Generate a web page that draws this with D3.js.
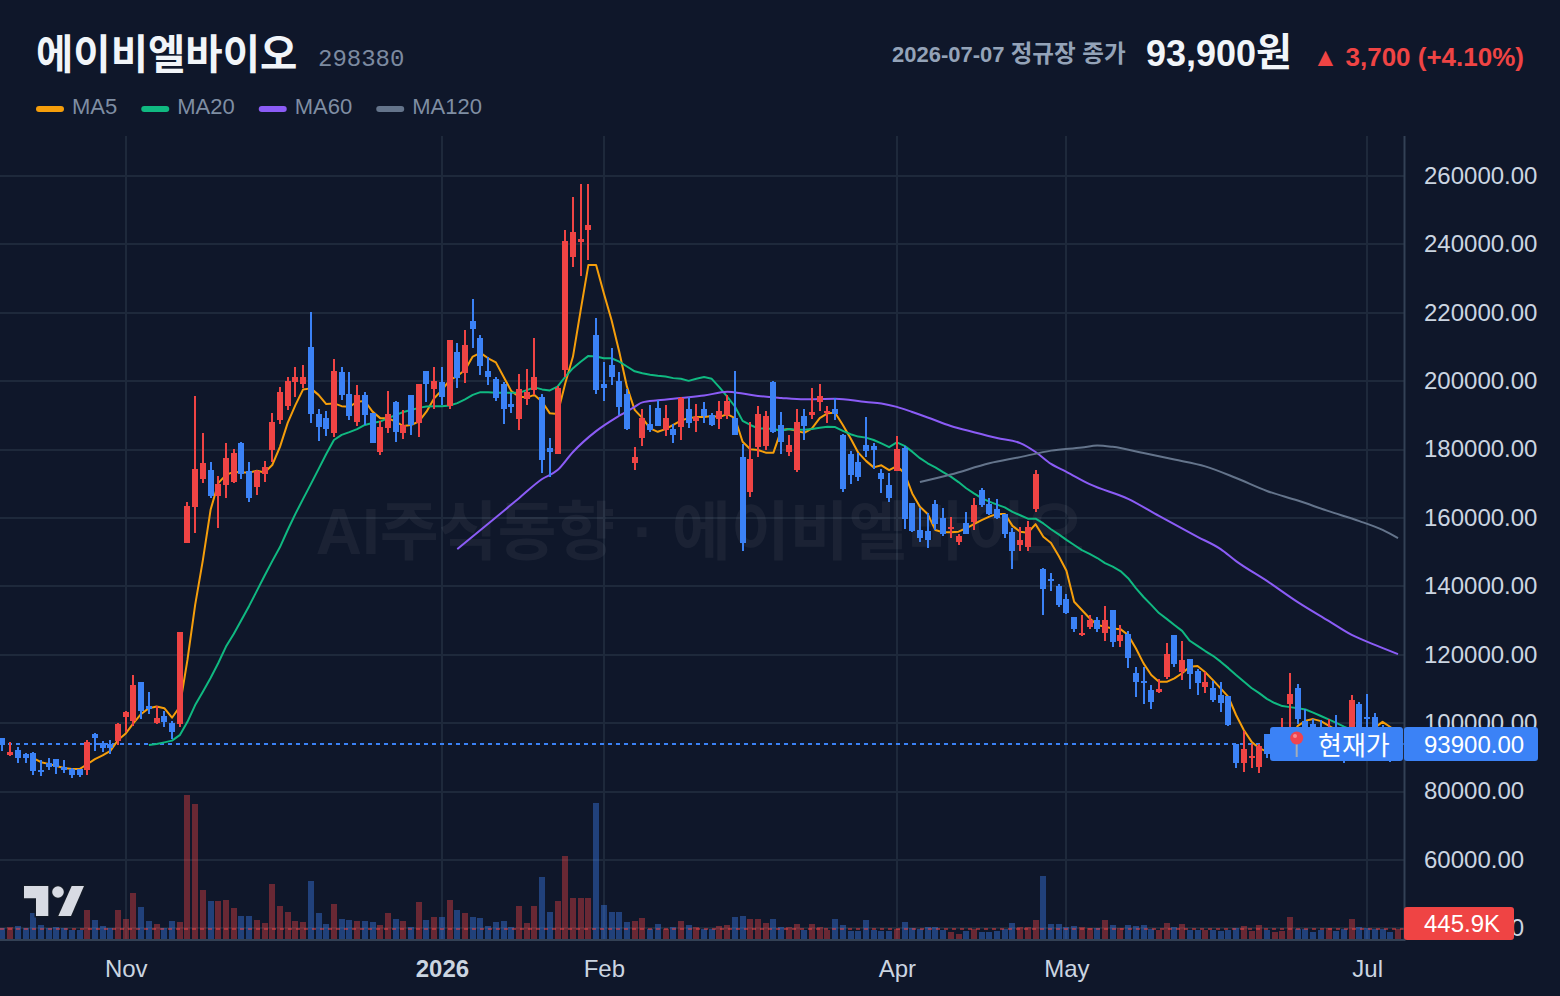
<!DOCTYPE html>
<html lang="ko">
<head>
<meta charset="utf-8">
<title>에이비엘바이오 298380</title>
<script src="https://cdn.jsdelivr.net/npm/d3@7/dist/d3.min.js"></script>
<style>
  html, body { margin: 0; padding: 0; background: #0f172a; }
  svg { display: block; font-family: "Liberation Sans", "Noto Sans CJK KR", sans-serif; }
</style>
</head>
<body>
<svg id="chart" width="1560" height="996"></svg>
<script>
// Daily prices in thousand won, one entry per trading day.
const open = [
  95.6, 90.7, 92.2, 91.0, 91.3, 86.3, 88.3, 89.5, 87.1, 86.5,
  86.5, 86.3, 96.8, 94.3, 94.0, 94.8, 101.7, 100.6, 112.0, 105.0,
  99.9, 102.1, 100.1, 99.8, 152.8, 163.3, 171.5, 174.0, 166.4, 169.6,
  170.5, 181.9, 173.7, 169.1, 172.9, 179.9, 188.7, 192.7, 199.8, 199.2,
  210.0, 190.4, 189.2, 184.9, 202.7, 196.3, 188.1, 196.0, 190.7, 179.3,
  186.3, 193.9, 184.9, 196.0, 187.8, 203.0, 197.7, 199.8, 192.7, 208.5,
  202.4, 217.6, 212.6, 203.0, 200.6, 199.2, 193.3, 189.0, 194.8, 197.4,
  195.4, 180.5, 178.7, 203.3, 236.3, 240.7, 244.2, 213.5, 199.2, 204.7,
  200.1, 196.3, 176.1, 183.4, 187.5, 192.2, 185.7, 186.0, 186.6, 191.9,
  188.4, 191.9, 190.1, 189.0, 190.1, 189.2, 177.8, 167.6, 180.8, 181.0,
  199.8, 187.2, 179.3, 174.0, 189.9, 190.1, 193.9, 190.7, 191.9, 184.3,
  178.7, 176.4, 181.4, 181.0, 173.2, 169.6, 173.7, 180.5, 164.4, 156.5,
  156.2, 164.1, 160.0, 157.1, 153.1, 158.6, 158.8, 168.2, 164.1, 162.6,
  161.2, 155.9, 152.1, 151.5, 162.6, 145.1, 142.2, 140.1, 136.3, 131.0,
  125.8, 128.1, 130.2, 126.4, 133.1, 124.1, 126.1, 114.7, 112.3, 109.7,
  109.1, 113.5, 125.8, 115.0, 118.8, 115.3, 110.6, 110.3, 108.2, 108.0,
  93.9, 88.4, 89.8, 87.2, 96.8, 91.6, 92.8, 105.6, 110.3, 100.6,
  99.8, 98.6, 93.6, 98.6, 98.0, 96.5, 105.6, 101.8, 101.8, 98.6,
  97.1, 90.2
];
const close = [
  93.6, 91.6, 89.8, 89.8, 86.1, 85.7, 87.1, 87.1, 86.1, 84.8,
  84.6, 94.6, 95.5, 92.8, 92.8, 99.8, 103.3, 111.1, 103.6, 104.1,
  101.5, 100.3, 97.4, 126.7, 163.5, 174.4, 176.1, 166.4, 169.9, 177.5,
  179.0, 172.9, 165.8, 173.7, 174.9, 188.1, 196.8, 200.1, 201.2, 201.2,
  190.4, 186.6, 186.0, 203.0, 196.0, 189.9, 196.0, 190.1, 181.9, 186.6,
  190.4, 185.1, 187.2, 187.2, 199.2, 199.2, 200.1, 195.4, 212.0, 200.9,
  210.6, 215.3, 204.4, 201.2, 195.1, 191.9, 192.4, 197.7, 196.8, 201.2,
  177.0, 179.3, 198.0, 241.0, 243.6, 241.6, 245.7, 197.4, 198.0, 201.2,
  192.5, 186.0, 177.8, 189.2, 185.7, 186.9, 189.2, 184.3, 195.1, 187.8,
  189.6, 189.9, 187.2, 191.3, 194.2, 184.3, 152.7, 177.2, 190.4, 189.9,
  185.1, 182.2, 181.4, 188.1, 186.9, 191.0, 195.7, 191.3, 190.4, 168.5,
  172.6, 172.0, 179.6, 179.9, 171.4, 165.8, 180.2, 159.7, 156.2, 154.1,
  153.6, 158.3, 155.3, 157.5, 154.8, 155.4, 163.8, 163.8, 161.2, 160.0,
  155.4, 150.3, 153.6, 157.4, 172.9, 139.3, 141.9, 134.6, 132.2, 127.5,
  126.4, 130.2, 127.5, 130.2, 123.8, 125.8, 119.1, 112.1, 111.8, 106.2,
  110.0, 120.2, 117.3, 118.5, 114.4, 111.8, 112.0, 106.8, 105.9, 99.5,
  88.4, 92.5, 90.4, 93.3, 91.0, 97.1, 96.5, 108.5, 101.2, 96.5,
  95.7, 94.5, 97.1, 93.6, 90.7, 106.8, 96.5, 101.5, 95.7, 93.6,
  90.2, 93.9
];
const high = [
  95.6, 94.5, 93.1, 91.3, 91.6, 89.2, 89.8, 89.5, 89.2, 86.9,
  86.7, 95.1, 97.1, 94.7, 95.1, 100.0, 103.6, 114.1, 112.0, 109.1,
  105.0, 103.6, 100.6, 126.7, 164.7, 195.7, 184.8, 176.4, 172.3, 181.8,
  180.2, 182.2, 176.4, 174.0, 176.7, 190.7, 198.3, 201.2, 204.1, 204.7,
  220.2, 191.9, 191.3, 206.5, 204.1, 202.7, 198.9, 196.8, 190.7, 188.4,
  197.1, 194.2, 191.6, 196.0, 199.2, 203.0, 204.1, 204.1, 212.0, 211.2,
  215.0, 224.0, 213.5, 207.1, 201.2, 199.8, 196.5, 202.1, 203.6, 212.6,
  196.3, 183.4, 198.6, 244.2, 253.9, 257.7, 257.7, 218.5, 205.6, 209.7,
  202.7, 197.7, 180.8, 191.9, 193.0, 194.5, 193.0, 187.5, 195.4, 195.4,
  193.3, 193.9, 190.7, 194.2, 196.0, 203.0, 181.6, 188.1, 192.8, 191.3,
  200.1, 191.0, 184.3, 191.9, 191.9, 198.0, 199.2, 192.7, 195.1, 184.6,
  179.6, 179.0, 189.6, 181.9, 174.3, 173.2, 183.9, 181.0, 164.4, 162.9,
  161.5, 165.3, 162.9, 160.4, 155.4, 161.7, 165.8, 168.8, 165.8, 165.5,
  161.2, 157.1, 157.4, 159.1, 174.0, 145.4, 143.9, 140.7, 137.8, 131.0,
  131.6, 131.6, 131.0, 134.3, 133.1, 128.7, 127.0, 116.5, 116.5, 111.2,
  112.9, 123.4, 125.8, 124.1, 118.8, 115.9, 115.0, 112.3, 112.0, 108.0,
  93.9, 97.7, 93.9, 93.9, 96.8, 98.9, 101.5, 114.7, 111.5, 104.1,
  101.2, 100.9, 101.2, 102.4, 98.9, 108.2, 106.2, 108.5, 103.0, 99.5,
  98.6, 95.0
];
const low = [
  91.9, 90.5, 88.4, 88.4, 85.0, 84.6, 86.3, 85.2, 85.5, 84.1,
  84.4, 84.9, 91.9, 91.7, 91.0, 93.6, 97.5, 99.2, 101.2, 102.7,
  99.9, 98.9, 95.4, 98.9, 152.8, 155.7, 170.3, 165.8, 157.1, 165.8,
  170.2, 171.4, 164.7, 166.8, 170.5, 176.4, 187.5, 191.6, 195.4, 198.0,
  187.8, 182.5, 183.9, 183.7, 194.5, 188.7, 187.0, 187.2, 181.9, 178.4,
  184.9, 182.2, 183.1, 184.3, 183.7, 193.9, 191.9, 193.1, 191.9, 198.0,
  199.5, 209.7, 201.8, 198.9, 194.2, 187.5, 190.7, 185.7, 193.0, 196.0,
  173.2, 172.0, 178.7, 201.2, 233.4, 230.8, 235.4, 196.3, 194.2, 198.9,
  190.1, 185.7, 174.0, 181.0, 185.1, 186.9, 183.9, 181.9, 182.8, 186.3,
  185.1, 187.8, 186.9, 186.0, 189.0, 184.3, 150.3, 166.1, 177.8, 179.9,
  184.9, 178.7, 178.1, 173.5, 182.8, 189.0, 191.3, 187.8, 188.7, 167.6,
  169.9, 170.8, 177.8, 174.3, 167.3, 164.7, 173.7, 156.8, 155.9, 153.0,
  151.2, 156.5, 154.7, 154.1, 152.2, 155.4, 156.5, 163.2, 160.9, 159.7,
  154.1, 145.0, 150.3, 150.3, 161.7, 131.6, 138.6, 134.0, 131.9, 126.7,
  125.5, 127.5, 126.7, 124.1, 122.3, 122.3, 116.2, 107.7, 105.6, 104.1,
  108.8, 112.9, 116.5, 112.6, 110.0, 108.2, 108.8, 106.2, 103.3, 99.2,
  86.9, 85.7, 86.9, 85.4, 89.8, 90.4, 91.6, 96.5, 99.8, 93.6,
  93.3, 92.2, 92.2, 91.6, 88.4, 93.6, 94.5, 95.1, 93.6, 91.6,
  88.7, 89.5
];
// Daily turnover in thousand shares.
const volume = [
  459, 515, 558, 485, 1103, 601, 459, 515, 472, 399,
  399, 1244, 815, 558, 485, 1244, 858, 1973, 1373, 772,
  644, 472, 772, 729, 6178, 5792, 2102, 1630, 1630, 1673,
  1330, 987, 987, 815, 686, 2360, 1416, 1158, 772, 729,
  2488, 1115, 644, 1502, 858, 815, 772, 772, 729, 601,
  1115, 858, 772, 515, 1587, 815, 944, 944, 1673, 1244,
  1115, 944, 901, 558, 729, 772, 515, 1416, 686, 1416,
  2660, 1158, 1630, 3561, 1759, 1759, 1759, 5834, 1459, 1158,
  1158, 729, 772, 901, 429, 644, 429, 515, 772, 601,
  515, 429, 429, 558, 601, 944, 987, 858, 858, 686,
  858, 515, 515, 644, 386, 644, 515, 386, 858, 601,
  343, 343, 815, 386, 343, 343, 429, 729, 472, 429,
  515, 515, 386, 300, 215, 343, 429, 300, 300, 343,
  429, 686, 515, 515, 815, 2703, 644, 644, 515, 558,
  515, 493, 493, 815, 601, 472, 601, 558, 601, 429,
  386, 686, 515, 644, 386, 386, 386, 386, 343, 386,
  472, 558, 343, 601, 386, 300, 343, 944, 429, 429,
  300, 386, 472, 343, 429, 858, 515, 472, 429, 429,
  300, 445.9
];

// Moving averages in thousand won. Each starts once its window is filled.
const ma5Start = 4;
const ma5 = [
  89.8, 88.6, 88.1, 87.5, 86.9, 86.6, 86.6, 88.0, 89.5, 90.6,
  91.9, 95.1, 97.0, 100.0, 102.7, 104.4, 104.9, 104.4, 101.6, 104.8,
  118.5, 134.6, 147.7, 162.4, 170.2, 172.6, 173.5, 173.3, 173.3, 173.8,
  173.3, 175.5, 180.8, 187.8, 193.0, 197.6, 197.9, 196.0, 193.3, 193.5,
  192.7, 192.5, 194.0, 194.2, 191.1, 189.2, 189.2, 188.2, 186.9, 187.2,
  188.2, 191.1, 195.0, 197.4, 200.3, 201.5,
  203.3, 207.2, 208.3, 206.7, 205.5, 201.3, 197.1, 195.5, 195.2, 196.0,
  194.0, 190.6, 190.4, 199.4, 207.2, 220.8, 234.0, 234.0, 225.7, 217.9,
  208.6, 198.4, 191.6, 189.2, 186.2, 185.2, 186.0, 187.2, 188.5, 189.2,
  189.5, 189.5, 189.8, 189.5, 190.4, 189.2,
  182.3, 180.1, 179.9, 179.1, 179.1, 185.7, 186.0, 185.5, 184.9, 186.2,
  189.2, 190.6, 190.8, 187.2, 183.3, 179.1, 176.7, 174.8, 175.4, 174.0,
  175.2, 173.1, 167.2, 163.3, 161.2, 156.5, 155.8, 155.8, 156.0, 157.0,
  158.2, 159.4, 160.4, 161.2, 161.2, 157.7, 156.0, 155.7, 158.2,
  154.5, 152.7, 148.9, 144.6, 135.5, 133.1, 130.7, 128.7, 128.2, 127.7,
  127.5, 125.8, 121.9, 117.5, 114.1, 112.1, 112.1, 113.1, 114.6, 116.5,
  116.7, 114.9, 112.6, 110.2, 107.7, 102.4, 98.0, 94.6, 92.7, 91.7,
  90.7, 92.8, 95.7, 99.2, 100.7, 101.2, 100.6, 99.3, 98.0, 96.5,
  97.1, 98.0, 98.6, 98.7, 100.4, 98.9, 96.5
];
const ma20Start = 19;
const ma20 = [
  93.6, 93.9, 94.4, 94.9, 96.5, 100.4, 105.3, 109.2, 113.2, 117.6, 122.4,
  126.1, 130.2, 134.3, 138.7, 143.1, 147.4, 151.5, 156.5, 161.2, 165.6,
  169.9, 174.3, 178.7, 182.8, 184.3, 185.1, 186.0, 187.2, 187.8, 188.2,
  189.2, 190.1, 191.0, 191.6, 192.2, 192.6, 192.7, 192.7, 192.9, 193.6,
  194.7, 196.0, 196.8, 196.8, 196.6, 196.6, 196.6, 196.6, 197.4, 198.2,
  197.6, 197.3, 198.4, 201.3, 203.8, 205.7, 207.4, 207.2, 206.7, 206.7,
  205.7, 204.3, 202.9, 202.3, 201.9, 201.6, 201.4, 200.9, 200.7, 200.1,
  200.7, 201.2, 200.7, 198.2, 195.5, 192.6, 188.4, 187.2, 186.2, 186.2,
  186.0, 185.5, 186.0, 185.8, 185.8, 186.0, 186.4, 186.7, 186.6, 185.5,
  184.5, 183.8, 183.5, 182.8, 181.8, 180.7, 182.1, 181.1, 179.4, 177.5,
  176.0, 174.8, 173.4, 172.1, 170.5, 168.7, 167.2, 165.8, 164.8, 163.9,
  163.1, 161.8, 160.8, 159.8, 159.8, 158.4, 156.7, 155.2, 153.6, 152.1,
  150.6, 149.5, 148.3, 146.8, 145.8, 144.5, 142.4, 139.5, 136.9, 134.6,
  132.2, 130.5, 128.7, 127.0, 124.1, 122.6, 121.1, 119.7, 118.0, 116.1,
  114.1, 112.2, 110.3, 108.8, 107.1, 105.9, 105.0, 104.7, 104.4, 104.0,
  103.1, 102.1, 101.1, 100.1, 99.0, 98.0, 97.7, 97.4, 97.1, 96.8,
  96.5, 96.2
];
// The two long averages are smooth, so they are sampled at the listed bars.
const ma60Bars = [59, 63, 67, 70, 72, 74, 77, 80, 82, 83, 85, 88, 91, 94, 96, 98, 101, 104, 108, 112, 114, 116, 118, 120, 123, 126, 129, 132, 134, 136, 138, 141, 146, 150, 155, 158, 160, 164, 168, 172, 175, 178, 181];
const ma60 = [150.9, 158.3, 165.8, 171.4, 174.0, 179.3, 185.4, 189.9, 192.5, 193.8, 194.4, 195.1, 195.8, 196.9, 196.4, 195.7, 195.1, 194.7, 194.9, 193.9, 193.5, 192.5, 191.0, 189.4, 186.9, 185.1, 183.4, 181.9, 179.3, 175.8, 173.5, 169.9, 165.6, 160.6, 154.5, 150.9, 147.4, 141.6, 135.4, 129.9, 125.8, 122.9, 120.2];
const ma120Bars = [119, 123, 128, 132, 136, 140, 142, 144, 148, 152, 156, 160, 164, 168, 172, 176, 179, 181];
const ma120 = [170.5, 172.7, 176.0, 177.8, 179.7, 180.6, 181.2, 180.8, 179.0, 177.1, 175.1, 171.7, 167.9, 165.1, 162.0, 159.1, 156.5, 154.1];

const priceTicks = [260000, 240000, 220000, 200000, 180000, 160000, 140000, 120000, 100000, 80000, 60000, 40000];
const monthLabels = ["Nov", "2026", "Feb", "Apr", "May", "Jul"];
const monthBars = [16, 57, 78, 116, 138, 177];

const maSeries = [
  { label: "MA5", color: "#f59e0b" },
  { label: "MA20", color: "#10b981" },
  { label: "MA60", color: "#8b5cf6" },
  { label: "MA120", color: "#64748b" }
];

const UP = "#ef4444";
const DOWN = "#3b82f6";
const GRID = "#1e293b";
const BORDER = "#334155";

const svg = d3.select("#chart");
const paneRight = 1404;
const paneBottom = 940;

const x = d3.scaleLinear().domain([0, open.length - 1]).range([2.4, 1398]);
const y = d3.scaleLinear().domain([40000, 260000]).range([928.4, 176]);
const yVol = d3.scaleLinear().domain([0, 6178]).range([939, 795]);

const bars = open.map((o, i) => ({
  i,
  open: o * 1000,
  close: close[i] * 1000,
  high: high[i] * 1000,
  low: low[i] * 1000,
  volume: volume[i],
  up: close[i] >= o
}));

const lastClose = bars[bars.length - 1].close;
const lastVolume = bars[bars.length - 1].volume;

// Grid
const grid = svg.append("g").attr("stroke", GRID).attr("stroke-width", 2);
grid.selectAll("line.h").data(priceTicks).join("line")
  .attr("x1", 0).attr("x2", paneRight).attr("y1", d => Math.round(y(d))).attr("y2", d => Math.round(y(d)));
grid.selectAll("line.v").data(monthBars).join("line")
  .attr("x1", d => Math.round(x(d))).attr("x2", d => Math.round(x(d))).attr("y1", 136).attr("y2", paneBottom);

// Watermark
svg.append("text")
  .attr("x", 700).attr("y", 554)
  .attr("text-anchor", "middle")
  .attr("font-size", 64).attr("font-weight", 700)
  .attr("fill", "rgba(255,255,255,0.05)")
  .text("AI주식동향 · 에이비엘바이오");

// Volume histogram
svg.append("g").selectAll("rect").data(bars).join("rect")
  .attr("x", d => Math.round(x(d.i)) - 3).attr("width", 6)
  .attr("y", d => Math.round(yVol(d.volume)))
  .attr("height", d => yVol(0) - Math.round(yVol(d.volume)))
  .attr("fill", d => d.up ? UP : DOWN)
  .attr("fill-opacity", 0.4);

svg.append("line")
  .attr("x1", 0).attr("x2", paneRight)
  .attr("y1", Math.round(yVol(lastVolume))).attr("y2", Math.round(yVol(lastVolume)))
  .attr("stroke", UP).attr("stroke-opacity", 0.5)
  .attr("stroke-width", 2).attr("stroke-dasharray", "4 4");

// Last close line
svg.append("line")
  .attr("x1", 0).attr("x2", paneRight)
  .attr("y1", Math.round(y(lastClose))).attr("y2", Math.round(y(lastClose)))
  .attr("stroke", DOWN).attr("stroke-width", 2).attr("stroke-dasharray", "4 4");

// Moving averages sit under the candles: daily series join bar to bar, sampled ones use a smooth curve
const lineDaily = d3.line().x(d => x(d[0])).y(d => y(d[1] * 1000));
const lineSampled = d3.line().x(d => x(d[0])).y(d => y(d[1] * 1000)).curve(d3.curveMonotoneX);
const withStart = (values, start) => values.map((v, k) => [start + k, v]);
const withBars = (values, barList) => values.map((v, k) => [barList[k], v]);
const maPaths = [
  lineDaily(withStart(ma5, ma5Start)),
  lineDaily(withStart(ma20, ma20Start)),
  lineSampled(withBars(ma60, ma60Bars)),
  lineSampled(withBars(ma120, ma120Bars))
];
svg.append("g").attr("fill", "none").attr("stroke-width", 2).attr("stroke-linejoin", "round")
  .selectAll("path").data(maPaths).join("path")
  .attr("d", d => d)
  .attr("stroke", (d, k) => maSeries[k].color);

// Candles, snapped to whole pixels so wicks and bodies stay crisp
const candle = svg.append("g").selectAll("g").data(bars).join("g")
  .attr("fill", d => d.up ? UP : DOWN);
candle.append("rect")
  .attr("x", d => Math.round(x(d.i)) - 1).attr("width", 2)
  .attr("y", d => Math.round(y(d.high)))
  .attr("height", d => Math.max(1, Math.round(y(d.low)) - Math.round(y(d.high))));
candle.append("rect")
  .attr("x", d => Math.round(x(d.i)) - 3).attr("width", 6)
  .attr("y", d => Math.round(y(Math.max(d.open, d.close))))
  .attr("height", d => Math.max(2, Math.round(Math.abs(y(d.open) - y(d.close)))));

// Pane frame
svg.append("line").attr("x1", paneRight + 0.5).attr("x2", paneRight + 0.5).attr("y1", 136).attr("y2", paneBottom + 1)
  .attr("stroke", BORDER).attr("stroke-width", 2);
svg.append("line").attr("x1", 0).attr("x2", paneRight).attr("y1", paneBottom).attr("y2", paneBottom)
  .attr("stroke", BORDER).attr("stroke-width", 2);

// Price scale
const priceAxis = svg.append("g")
  .attr("transform", `translate(${paneRight},0)`)
  .call(d3.axisRight(y).tickValues(priceTicks).tickFormat(d3.format(".2f")).tickSize(0).tickPadding(20));
priceAxis.select(".domain").remove();
priceAxis.selectAll("text")
  .attr("dy", "0.3em")
  .attr("font-size", 24).attr("font-family", "Liberation Sans").attr("fill", "#cbd5e1");

// Time scale
const timeAxis = svg.append("g")
  .attr("transform", `translate(0,${paneBottom})`)
  .call(d3.axisBottom(x).tickValues(monthBars).tickFormat((d, k) => monthLabels[k]).tickSize(0).tickPadding(0));
timeAxis.select(".domain").remove();
timeAxis.selectAll("text")
  .attr("y", 37).attr("dy", 0)
  .attr("font-size", 24).attr("font-family", "Liberation Sans").attr("fill", "#cbd5e1")
  .attr("font-weight", (d, k) => monthLabels[k] === "2026" ? 700 : 400);

// Logo mark
const logo = svg.append("g").attr("fill", "#d8dbe3").attr("stroke", "#131a27").attr("stroke-width", 3).attr("paint-order", "stroke");
logo.append("path").attr("d", "M24 886H48.3V916H36V898.3H24Z");
logo.append("circle").attr("cx", 58).attr("cy", 892).attr("r", 5.8);
logo.append("path").attr("d", "M71.7 886H84L71 916H58.3Z");

// Volume tag
svg.append("rect").attr("x", paneRight).attr("y", 907).attr("width", 110).attr("height", 33).attr("rx", 3).attr("fill", UP);
svg.append("text").attr("x", 1462).attr("y", 932).attr("text-anchor", "middle")
  .attr("font-size", 24).attr("fill", "#ffffff").text(d3.format(".1f")(lastVolume) + "K");

// Last price tags
const tagTop = Math.round(y(lastClose)) - 17;
svg.append("rect").attr("x", 1270).attr("y", tagTop).attr("width", 133).attr("height", 34).attr("rx", 3).attr("fill", DOWN);
svg.append("rect").attr("x", 1404).attr("y", tagTop).attr("width", 134).attr("height", 34).attr("rx", 3).attr("fill", DOWN);
svg.append("line").attr("x1", 1296.7).attr("x2", 1296.7).attr("y1", 742).attr("y2", 757)
  .attr("stroke", "#a3adba").attr("stroke-width", 2);
svg.append("circle").attr("cx", 1296.7).attr("cy", 738).attr("r", 6.5).attr("fill", "#ef4450");
svg.append("circle").attr("cx", 1295).attr("cy", 736).attr("r", 2).attr("fill", "#f98a90");
svg.append("text").attr("x", 1318).attr("y", tagTop + 28).attr("font-size", 26).attr("fill", "#ffffff")
  .text("현재가");
svg.append("text").attr("x", 1424).attr("y", tagTop + 25.5).attr("font-size", 24).attr("fill", "#ffffff")
  .text(d3.format(".2f")(lastClose));

// Header
svg.append("text").attr("x", 36).attr("y", 69).attr("font-size", 40.6).attr("font-weight", 700).attr("fill", "#f1f5f9").text("에이비엘바이오");
svg.append("text").attr("x", 318).attr("y", 66).attr("font-size", 24).attr("font-family", "Liberation Mono").attr("fill", "#7c8aa0").text("298380");

let legendX = 36;
const legend = svg.append("g");
maSeries.forEach(s => {
  legend.append("rect").attr("x", legendX).attr("y", 106).attr("width", 28).attr("height", 6).attr("rx", 3).attr("fill", s.color);
  const t = legend.append("text").attr("x", legendX + 36).attr("y", 114).attr("font-size", 22).attr("fill", "#7f8ea3").text(s.label);
  legendX += 36 + t.node().getComputedTextLength() + 24;
});

// Latin and Hangul parts are sized separately in the quote line
const dateLine = svg.append("text").attr("x", 892).attr("y", 62).attr("font-size", 22).attr("font-weight", 700).attr("fill", "#94a3b8");
dateLine.append("tspan").text("2026-07-07 ");
dateLine.append("tspan").attr("font-size", 23.6).text("정규장 종가");
const priceLine = svg.append("text").attr("x", 1146).attr("y", 66).attr("font-size", 36).attr("font-weight", 700).attr("fill", "#f1f5f9");
priceLine.append("tspan").text(d3.format(",")(lastClose));
priceLine.append("tspan").attr("font-size", 39).text("원");
svg.append("text").attr("x", 1524).attr("y", 66).attr("text-anchor", "end").attr("font-size", 26).attr("font-weight", 700).attr("fill", UP)
  .text("▲ 3,700 (+4.10%)");
</script>
</body>
</html>
